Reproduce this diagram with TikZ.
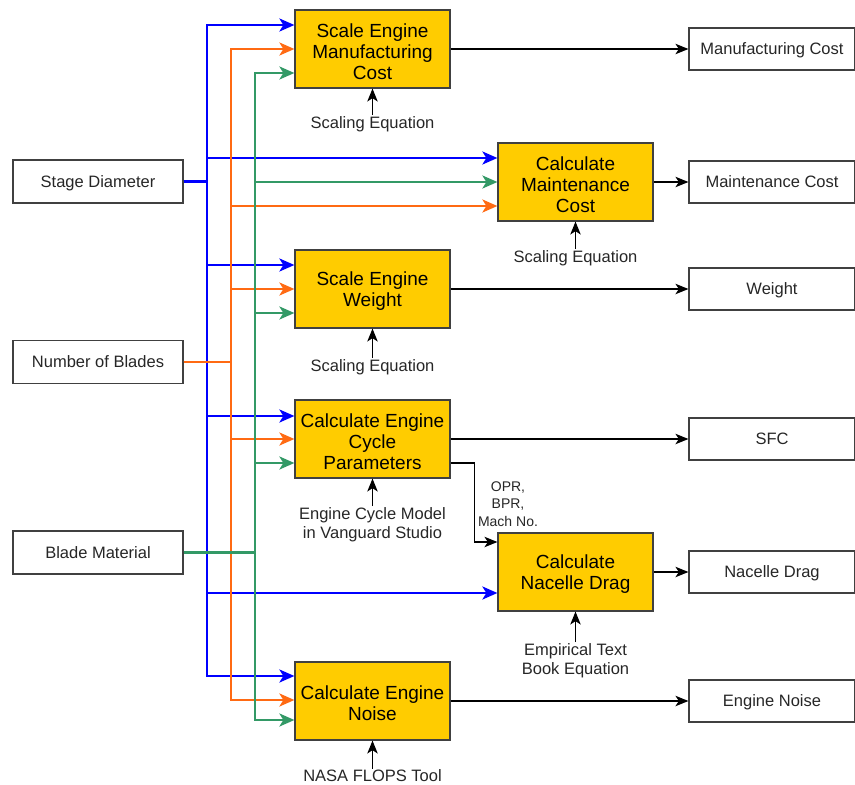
\documentclass[tikz,border=0pt]{standalone}
\usepackage{fontspec}
\setmainfont{Liberation Sans}
\usetikzlibrary{arrows.meta}
\usetikzlibrary{positioning}

\definecolor{procfill}{HTML}{FFCC00}
\definecolor{busblue}{HTML}{0000FF}
\definecolor{busorange}{HTML}{FF6A13}
\definecolor{busgreen}{HTML}{339966}
\definecolor{boxline}{HTML}{404040}
\newcommand{\procgap}{\rule{0pt}{18.5pt}}

\begin{document}
\begin{tikzpicture}[x=1pt,y=-1pt,on grid,
    font=\fontsize{16.5}{19}\selectfont,
    inbox/.style={draw=boxline,line width=1.2pt,minimum width=170pt,minimum height=43pt,inner sep=0pt,text depth=0pt,text=black!85},
    outbox/.style={draw=boxline,line width=1.2pt,minimum width=166pt,minimum height=42pt,inner sep=0pt,text depth=0pt,text=black!85},
    proc/.style={draw=boxline,fill=procfill,line width=1.2pt,minimum width=155pt,minimum height=78pt,inner sep=0pt,align=center,
      font=\fontsize{19}{21}\selectfont},
    tool/.style={inner sep=1pt,align=center,text=black!85},
    flow/.style={-{Stealth[length=13pt,width=10.5pt,inset=3.5pt]},line width=1.2pt},
    bus/.style={-{Stealth[length=15pt,width=13pt,inset=4pt]},line width=2.5pt}]
    \useasboundingbox (0,0) rectangle (855,785);

    % Processing steps
    \node[proc] (mfg) at (372.5,49) {\procgap Scale Engine\\Manufacturing\\Cost};
    \node[proc, below=240pt of mfg] (wt) {\procgap Scale Engine\\Weight};
    \node[proc, below=150pt of wt] (cyc) {\procgap Calculate Engine\\Cycle\\Parameters};
    \node[proc, below=262pt of cyc] (noise) {\procgap Calculate Engine\\Noise};
    \node[proc] (mnt) at (575.5,182) {\procgap Calculate\\Maintenance\\Cost};
    \node[proc, below=390pt of mnt] (nac) {\procgap Calculate\\Nacelle Drag};

    % Design inputs
    \node[inbox] (sd) at (98,181.5) {Stage Diameter};
    \node[inbox, below=180.5pt of sd] (nb) {Number of Blades};
    \node[inbox, below=190.5pt of nb] (bm) {Blade Material};

    % Results
    \node[outbox, right=399.5pt of mfg] (mcost) {Manufacturing Cost};
    \node[outbox, right=196.5pt of mnt] (mntcost) {Maintenance Cost};
    \node[outbox, right=399.5pt of wt] (wout) {Weight};
    \node[outbox, right=399.5pt of cyc] (sfc) {SFC};
    \node[outbox, right=196.5pt of nac] (drag) {Nacelle Drag};
    \node[outbox, right=399.5pt of noise] (enoise) {Engine Noise};

    % Tools used by each step
    \node[tool, below=75pt of mfg] (t1) {Scaling Equation};
    \node[tool, below=76pt of mnt] (t2) {Scaling Equation};
    \node[tool, below=78pt of wt] (t3) {Scaling Equation};
    \node[tool, below=85.5pt of cyc] (t4) {Engine Cycle Model\\in Vanguard Studio};
    \node[tool, below=88.5pt of nac] (t5) {Empirical Text\\Book Equation};
    \node[tool, below=75pt of noise] (t6) {NASA FLOPS Tool};
    \node[inner sep=0pt, align=center, text=black!85, font=\fontsize{14}{17.5}\selectfont] (par) at (508,504) {OPR,\\BPR,\\Mach No.};

    % Distribution buses
    \coordinate (bblue) at (207,0);
    \coordinate (borange) at (231,0);
    \coordinate (bgreen) at (255,0);

    \foreach \t/\s in {mfg/24, mnt/24, wt/24, cyc/23, noise/25, nac/-21}
      \draw[bus,busblue] (sd.east) -- (sd.east -| bblue) |- ([yshift=\s pt]\t.west);
    \foreach \t/\s in {mfg/0, mnt/-24, wt/0, cyc/0, noise/1}
      \draw[bus,busorange] (nb.east) -- (nb.east -| borange) |- ([yshift=\s pt]\t.west);
    \foreach \t/\s in {mfg/-24, mnt/0, wt/-24, cyc/-24, noise/-19}
      \draw[bus,busgreen] (bm.east) -- (bm.east -| bgreen) |- ([yshift=\s pt]\t.west);

    % Results and tools
    \foreach \a/\b in {mfg/mcost, mnt/mntcost, wt/wout, cyc/sfc, nac/drag, noise/enoise}
      \draw[flow] (\a.east) -- (\b.west);
    \foreach \a/\b in {t1/mfg, t2/mnt, t3/wt, t4/cyc, t5/nac, t6/noise}
      \draw[flow] (\a.north) -- (\b.south);
    \draw[flow] ([yshift=-24pt]cyc.east) -- ++(24pt,0) |- ([yshift=30pt]nac.west);
\end{tikzpicture}
\end{document}
